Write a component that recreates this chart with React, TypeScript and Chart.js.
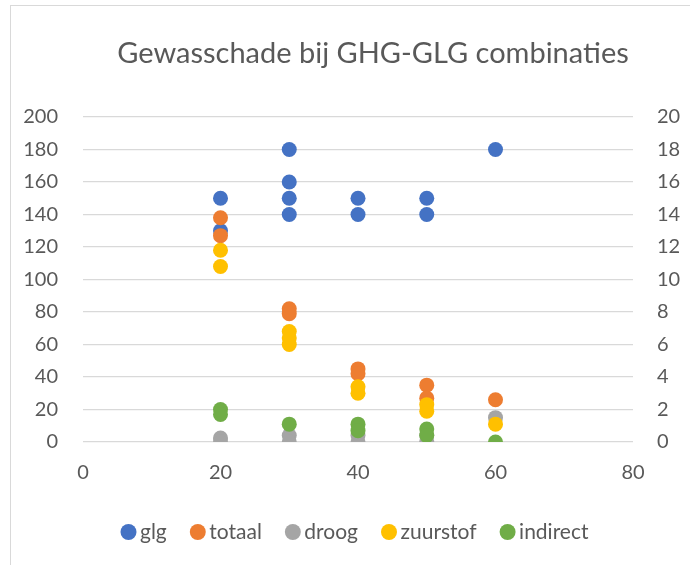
import React, { useEffect, useRef } from "react";
import { Chart, registerables } from "chart.js";

Chart.register(...registerables);

const TITLE = "Gewasschade bij GHG-GLG combinaties";
const SERIES_NAMES = ["glg", "totaal", "droog", "zuurstof", "indirect"];
const COLORS = ["#4472C4", "#ED7D31", "#A5A5A5", "#FFC000", "#70AD47"];

const glgX = [20, 20, 30, 30, 30, 30, 40, 40, 50, 50, 60];
const glgY = [150, 130, 180, 160, 150, 140, 150, 140, 150, 140, 180];

const totaalX = [20, 20, 30, 30, 40, 40, 50, 50, 60];
const totaalY = [13.8, 12.7, 8.2, 7.9, 4.5, 4.2, 3.5, 2.7, 2.6];

const droogX = [20, 20, 30, 30, 40, 40, 50, 50, 60];
const droogY = [0.25, 0.0, 0.4, 0.0, 0.4, 0.0, 0.4, 0.05, 1.5];

const zuurstofX = [20, 20, 30, 30, 30, 40, 40, 50, 50, 60];
const zuurstofY = [11.8, 10.8, 6.8, 6.4, 6.0, 3.4, 3.0, 2.3, 1.9, 1.1];

const indirectX = [20, 20, 30, 40, 40, 50, 50, 60];
const indirectY = [2.0, 1.7, 1.1, 1.1, 0.7, 0.8, 0.4, 0.0];

const X_TICKS = [0, 20, 40, 60, 80];

const toPts = (xs: number[], ys: number[]) => xs.map((x, i) => ({ x, y: ys[i] }));

const FONT = "Lato, 'Open Sans', sans-serif";
const TEXT = "#595959";
const GRID = "#d9d9d9";

const titlePlugin = {
  id: "offsetTitle",
  afterDraw(chart: any) {
    const ctx = chart.ctx;
    ctx.save();
    ctx.font = `normal 29px ${FONT}`;
    ctx.fillStyle = TEXT;
    ctx.textAlign = "center";
    ctx.textBaseline = "middle";
    ctx.fillText(TITLE, 373, 54);
    ctx.restore();
  },
};

export default function App() {
  const ref = useRef<HTMLCanvasElement | null>(null);

  useEffect(() => {
    if (!ref.current) return;
    const sets = [
      toPts(glgX, glgY),
      toPts(totaalX, totaalY),
      toPts(droogX, droogY),
      toPts(zuurstofX, zuurstofY),
      toPts(indirectX, indirectY),
    ];
    const chart = new Chart(ref.current, {
      type: "scatter",
      data: {
        datasets: sets.map((d, i) => ({
          label: SERIES_NAMES[i],
          data: d,
          yAxisID: i === 0 ? "y" : "y1",
          backgroundColor: COLORS[i],
          borderColor: COLORS[i],
          borderWidth: 0,
          pointRadius: 7.5,
          pointHoverRadius: 7.5,
          order: 10 - i,
        })),
      },
      plugins: [titlePlugin],
      options: {
        animation: false,
        responsive: false,
        maintainAspectRatio: false,
        layout: { padding: { left: 0, right: 0, top: 117, bottom: 12.5 } },
        plugins: {
          tooltip: { enabled: false },
          title: { display: false },
          legend: {
            position: "bottom",
            fullSize: false,
            labels: {
              usePointStyle: true,
              pointStyle: "circle",
              boxWidth: 2,
              boxHeight: 11.3,
              color: TEXT,
              padding: 30,
              font: { family: FONT, size: 21 },
              sort: (a: any, b: any) => a.datasetIndex - b.datasetIndex,
            },
          },
        },
        scales: {
          x: {
            type: "linear",
            min: 0,
            max: 80,
            afterBuildTicks: (s: any) => {
              s.ticks = X_TICKS.map((v) => ({ value: v }));
            },
            grid: { display: false, drawTicks: false },
            border: { display: false },
            ticks: { color: TEXT, font: { family: FONT, size: 20 }, padding: 19 },
            afterFit: (s: any) => {
              s.height = 49.5;
            },
          },
          y: {
            type: "linear",
            position: "left",
            min: 0,
            max: 200,
            ticks: { stepSize: 20, color: TEXT, font: { family: FONT, size: 20 }, padding: 25 },
            grid: { color: GRID, lineWidth: 1.3, drawTicks: false },
            border: { display: false },
            afterFit: (s: any) => {
              s.width = 83;
            },
          },
          y1: {
            type: "linear",
            position: "right",
            min: 0,
            max: 20,
            ticks: { stepSize: 2, color: TEXT, font: { family: FONT, size: 20 }, padding: 24 },
            grid: { drawOnChartArea: false, drawTicks: false },
            border: { display: false },
            afterFit: (s: any) => {
              s.width = 57;
            },
          },
        },
      },
    });
    return () => chart.destroy();
  }, []);

  return (
    <div style={{ position: "absolute", left: 0, top: 0, width: 690, height: 565, background: "#fff", overflow: "hidden" }}>
      <div
        style={{
          position: "absolute",
          left: 10,
          top: 5,
          width: 700,
          height: 600,
          borderTop: "1px solid #d9d9d9",
          borderLeft: "1px solid #d9d9d9",
          boxSizing: "border-box",
        }}
      />
      <canvas ref={ref} width={690} height={565} style={{ position: "absolute", left: 0, top: 0, width: 690, height: 565 }} />
    </div>
  );
}
